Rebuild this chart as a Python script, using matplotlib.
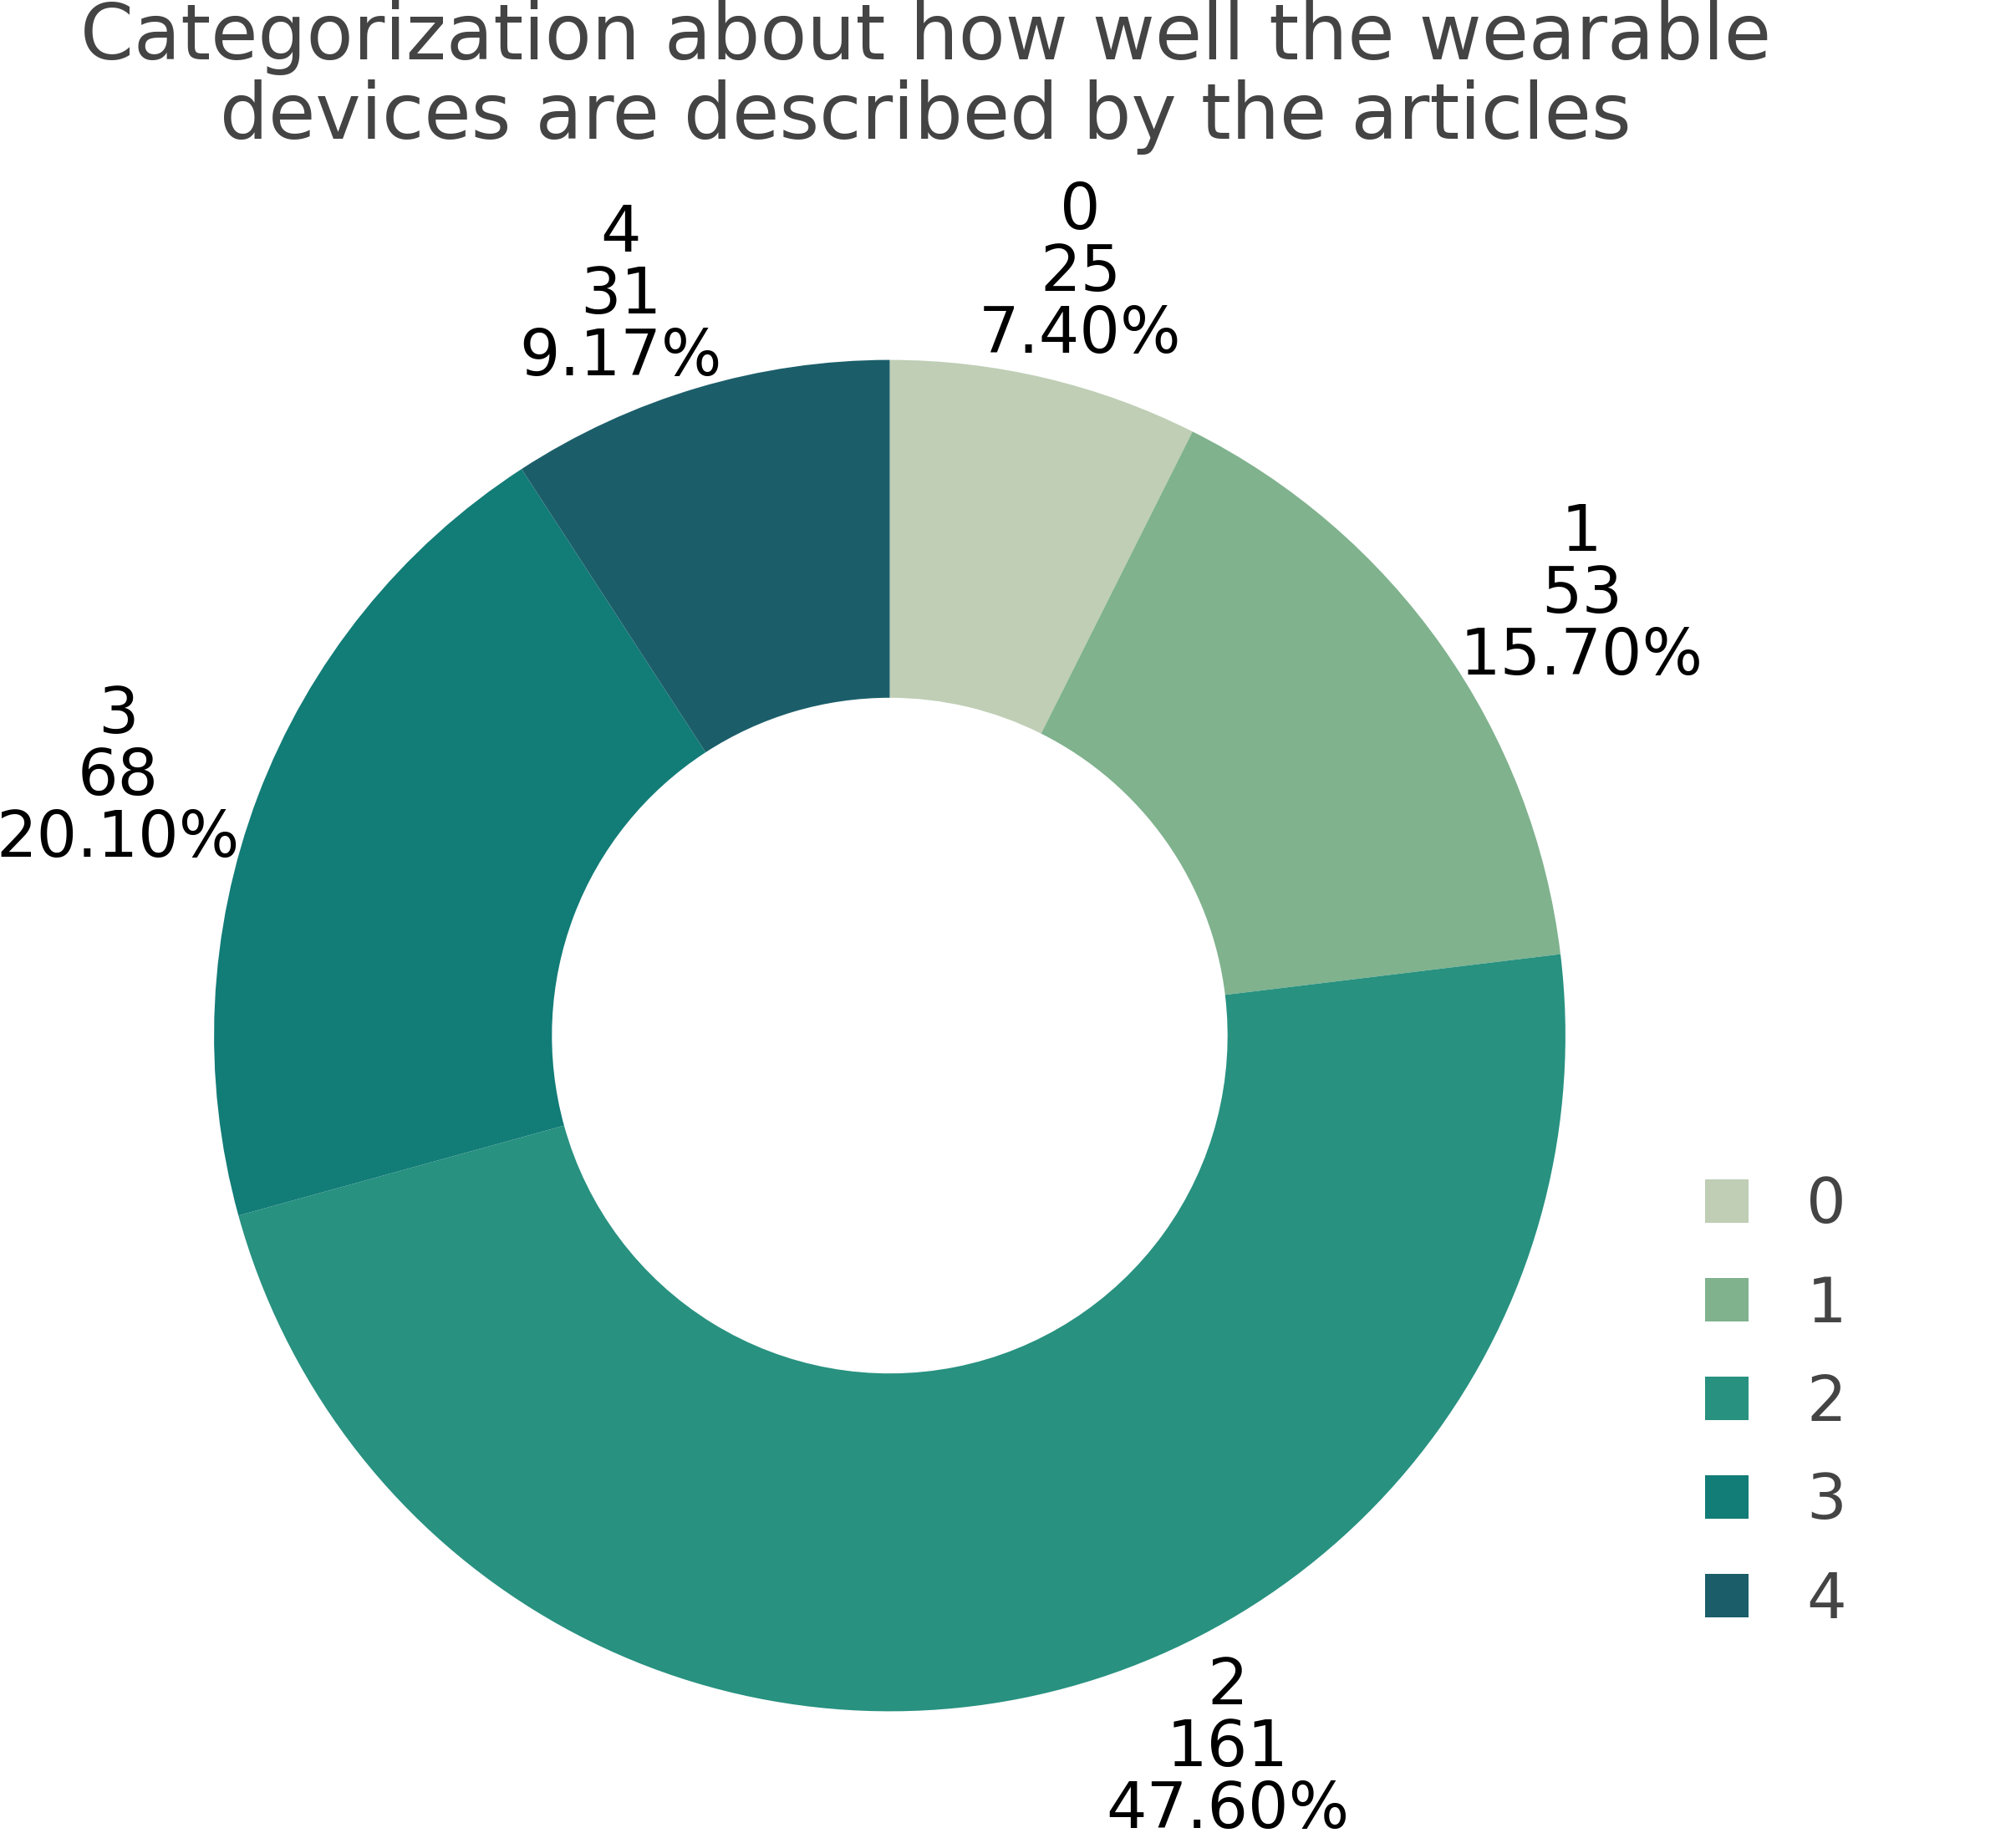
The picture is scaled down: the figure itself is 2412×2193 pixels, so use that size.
# Donut chart: how well wearable devices are described by the articles
import matplotlib.pyplot as plt

# Data
categories = ["0", "1", "2", "3", "4"]
counts = [25, 53, 161, 68, 31]
pct_labels = ["7.40%", "15.70%", "47.60%", "20.10%", "9.17%"]
colors = ["#bfceb5", "#7fb28d", "#289180", "#127c77", "#1b5e6a"]

# Outside label anchor points (in pie-radius units)
label_pos = [(0.282, 1.128), (1.024, 0.652), (0.500, -1.055),
             (-1.142, 0.382), (-0.398, 1.095)]

W, H, DPI = 2412, 2193, 100
cx, cy, R = 1064.5, 1239.0, 808.4  # pixel centre / radius of the donut

fig = plt.figure(figsize=(W / DPI, H / DPI), dpi=DPI)
ax = fig.add_axes([0, 0, 1, 1])

wedges, _ = ax.pie(counts, colors=colors, startangle=90, counterclock=False,
                   radius=1, wedgeprops=dict(width=0.5, linewidth=0))

ax.set_aspect("auto")
ax.set_xlim(-cx / R, (W - cx) / R)
ax.set_ylim(-(H - cy) / R, cy / R)
ax.axis("off")

# Slice labels: category, count, percent
for cat, n, pct, (x, y) in zip(categories, counts, pct_labels, label_pos):
    ax.text(x, y, f"{cat}\n{n}\n{pct}", ha="center", va="center",
            fontsize=55, color="black", linespacing=1.0)

# Title
fig.text(0.459, 0.958,
         "Categorization about how well the wearable\ndevices are described by the articles",
         ha="center", va="center", fontsize=66, color="#444444", linespacing=1.07)

# Legend
leg = ax.legend(wedges, categories, loc="center left",
                bbox_to_anchor=(2040 / W, 1 - 1679 / H),
                bbox_transform=fig.transFigure, frameon=False,
                fontsize=54, handlelength=0.69, handleheight=0.69,
                handletextpad=0.93, labelspacing=0.6, borderpad=0,
                borderaxespad=0)
for t in leg.get_texts():
    t.set_color("#444444")

fig.savefig("out.png", dpi=DPI)
